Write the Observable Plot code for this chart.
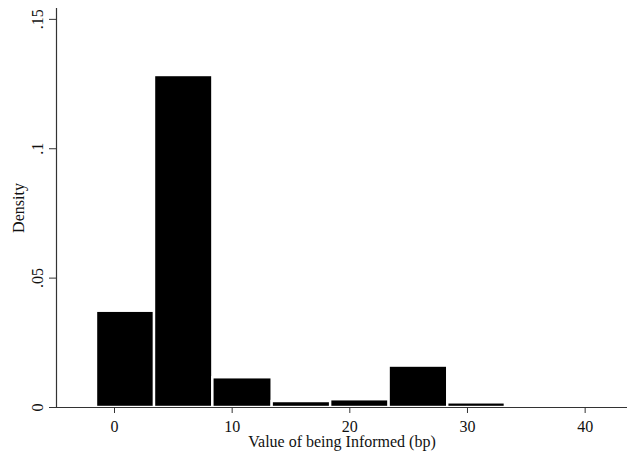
<!DOCTYPE html>
<html>
<head>
<meta charset="utf-8">
<script src="https://cdn.jsdelivr.net/npm/d3@7"></script>
<script src="https://cdn.jsdelivr.net/npm/@observablehq/plot@0.6"></script>
<style>
  html, body { margin: 0; padding: 0; background: #fff; }
</style>
</head>
<body>
<div id="chart"></div>
<script>
// Histogram bin edges (bp) and densities
const binEdges = [-1.53, 3.40, 8.36, 13.40, 18.37, 23.34, 28.32, 33.22];
const densities = [0.0372, 0.1283, 0.0115, 0.0023, 0.0030, 0.0160, 0.0018];
const xTicks = [0, 10, 20, 30, 40];
const xTickLabels = ["0", "10", "20", "30", "40"];
const yTicks = [0, 0.05, 0.1, 0.15];
const yTickLabels = ["0", ".05", ".1", ".15"];
const xTitle = "Value of being Informed (bp)";
const yTitle = "Density";

const bins = densities.map((d, i) => ({x1: binEdges[i], x2: binEdges[i + 1], y: d}));
const xDomain = [-4.93, 43.6];
const yDomain = [0, 0.1542];

const chart = Plot.plot({
  width: 627,
  height: 453,
  marginLeft: 56,
  marginRight: 0,
  marginTop: 8,
  marginBottom: 46,
  style: {fontFamily: "'Liberation Serif', 'Times New Roman', serif", fontSize: "16px", background: "#fff", color: "#111"},
  x: {domain: xDomain},
  y: {domain: yDomain},
  marks: [
    Plot.rectY(bins, {x1: "x1", x2: "x2", y: "y", fill: "#000", stroke: "#fff", strokeWidth: 2.4}),
    Plot.ruleY([0], {stroke: "#333", strokeWidth: 1.2}),
    Plot.ruleX([xDomain[0]], {y1: 0, y2: yDomain[1], stroke: "#333", strokeWidth: 1.2}),
    Plot.axisX({ticks: xTicks, tickFormat: (d) => xTickLabels[xTicks.indexOf(d)], tickSize: 6, tickPadding: 7, fontSize: 16, stroke: "#333", label: null}),
    Plot.axisY({ticks: yTicks, tickFormat: () => "", tickSize: 7, stroke: "#333", label: null}),
    Plot.text(yTicks, {y: d => d, text: (d, i) => yTickLabels[i], frameAnchor: "left", textAnchor: "middle", lineAnchor: "middle", dx: -19, rotate: -90, fontSize: 16, fill: "#111"}),
    Plot.text([yTitle], {text: d => d, frameAnchor: "left", textAnchor: "middle", lineAnchor: "middle", dx: -38, rotate: -90, fontSize: 16, fill: "#111"}),
    Plot.text([xTitle], {text: d => d, frameAnchor: "bottom", textAnchor: "middle", lineAnchor: "middle", dy: 34.6, fontSize: 16, fill: "#111"})
  ]
});
document.getElementById("chart").appendChild(chart);
</script>
</body>
</html>
